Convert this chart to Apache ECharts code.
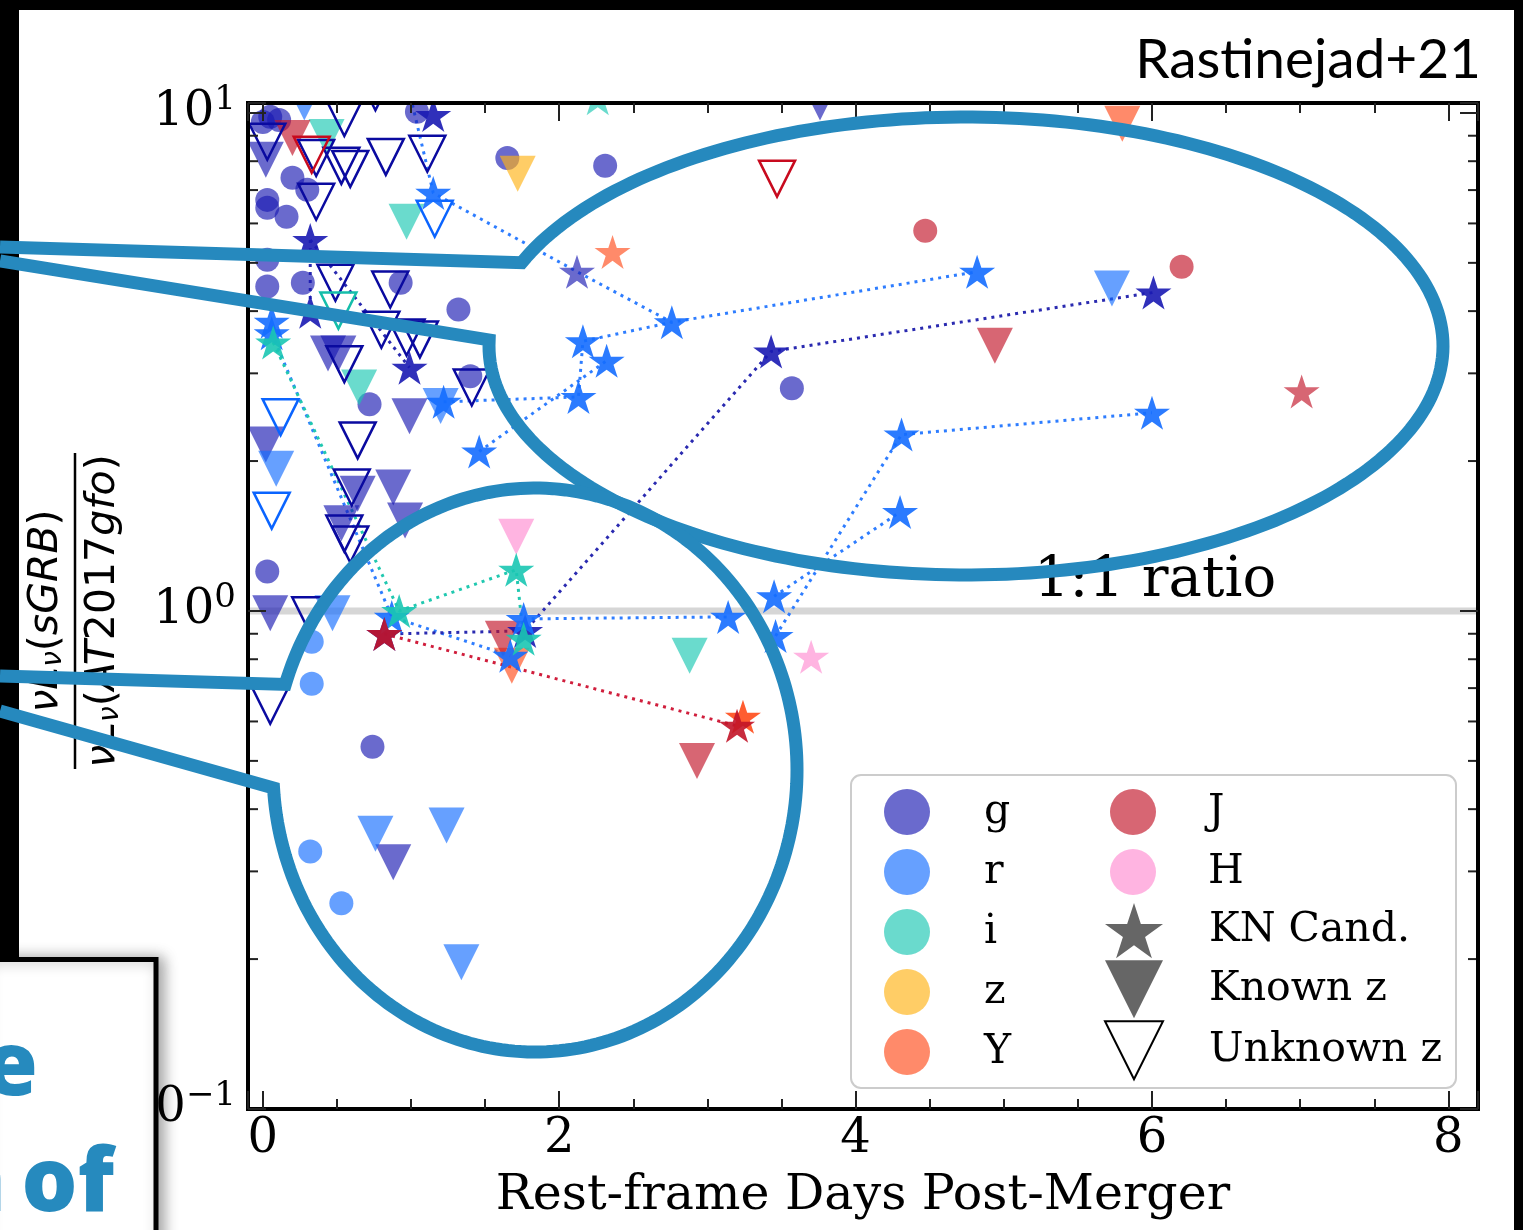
<!DOCTYPE html>
<html>
<head>
<meta charset="utf-8">
<script src="https://cdn.jsdelivr.net/npm/echarts@6/dist/echarts.min.js"></script>
<style>
  html, body { margin: 0; padding: 0; background: #fff; }
  #chart { width: 1523px; height: 1230px; }
</style>
</head>
<body>
<div id="chart"></div>
<script>
// axis ranges
const X_MIN = -0.1, X_MAX = 8.2, Y_MIN = 0.1, Y_MAX = 10.47;
const yMinorTicks = [0.2, 0.3, 0.4, 0.5, 0.6, 0.7, 0.8, 0.9, 2, 3, 4, 5, 6, 7, 8, 9];

// points: [days, ratio]
const gCircle = [[0.05, 9.82], [0.11, 9.68], [0.0, 9.59], [1.04, 10.05], [0.03, 6.69], [0.16, 6.19], [0.20, 7.41],
  [0.30, 7.01], [0.03, 6.45], [0.03, 5.07], [0.03, 4.48], [0.27, 4.56], [0.93, 4.56], [1.32, 4.03], [0.72, 2.60],
  [1.40, 2.96], [1.65, 8.12], [2.31, 7.83], [3.57, 2.80], [0.03, 1.20], [0.74, 0.534]];
const gKnown = [[0.02, 8.05], [0.44, 3.29], [0.51, 3.29], [0.99, 2.46], [0.02, 2.16], [0.64, 1.72], [0.88, 1.77],
  [0.96, 1.52], [0.53, 1.50], [0.05, 0.99], [0.88, 0.313], [3.76, 10.5]];
const gUnknown = [[0.03, 8.75], [0.36, 8.12], [0.53, 7.83], [0.59, 7.72], [0.83, 8.16], [1.11, 8.28], [0.55, 9.77],
  [0.76, 11.0], [0.36, 6.63], [0.49, 4.56], [0.86, 4.42], [0.80, 3.67], [0.97, 3.54], [1.06, 3.51], [0.55, 3.13],
  [1.41, 2.81], [0.64, 2.20], [0.60, 1.77], [0.55, 1.43], [0.59, 1.36], [0.32, 0.98], [0.05, 0.645]];
const gStar = [[1.15, 9.91], [0.32, 5.56], [0.32, 3.99], [0.99, 3.08], [3.43, 3.32], [6.01, 4.36],
  [0.82, 0.899], [1.77, 0.912]];
const gStarFaint = [[2.12, 4.80]];
const rCircle = [[0.33, 0.867], [0.33, 0.714], [0.32, 0.329], [0.53, 0.259]];
const rKnown = [[0.09, 1.93], [0.47, 0.99], [0.76, 0.357], [1.24, 0.371], [1.34, 0.197], [1.20, 2.58], [5.73, 4.44], [0.28, 10.5]];
const rUnknown = [[0.12, 2.45], [0.06, 1.59], [1.16, 6.13]];
const rStar = [[1.15, 6.91], [0.06, 3.81], [0.06, 3.61], [1.22, 2.63], [1.46, 2.09], [2.16, 3.48], [2.32, 3.18],
  [2.13, 2.69], [2.76, 3.80], [4.82, 4.80], [4.31, 2.26], [4.30, 1.58], [6.00, 2.50], [3.45, 1.07], [3.46, 0.891],
  [3.14, 0.973], [1.76, 0.964], [0.87, 0.973], [1.67, 0.813]];
const iKnown = [[0.43, 8.95], [0.97, 6.05], [0.65, 2.81], [2.88, 0.813]];
const iUnknown = [[0.51, 4.01]];
const iStar = [[0.07, 3.46], [0.92, 1.0], [1.71, 1.21], [1.76, 0.879]];
const iStarFaint = [[2.26, 10.7]];
const zKnown = [[1.72, 7.55]];
const yKnown = [[5.80, 9.51], [1.68, 0.776]];
const yStar = [[3.24, 0.613]];
const yStarFaint = [[2.36, 5.26]];
const jCircle = [[4.47, 5.80], [6.20, 4.91]];
const jKnown = [[0.20, 8.91], [4.94, 3.41], [2.93, 0.500], [1.62, 0.879]];
const jUnknown = [[0.33, 8.24], [3.47, 7.38]];
const jStar = [[3.20, 0.588], [0.82, 0.899]];
const jStarFaint = [[7.01, 2.76]];
const hKnown = [[1.71, 1.41]];
const hStarFaint = [[3.70, 0.809]];

// dotted tracks joining epochs of one candidate
const rTracks = [
  [[0.96, 12.0], [1.15, 6.91], [2.12, 4.80], [2.76, 3.80], [4.82, 4.80]],
  [[1.22, 2.63], [2.13, 2.69], [2.16, 3.48], [2.76, 3.80]],
  [[1.46, 2.09], [2.32, 3.18]],
  [[0.06, 3.61], [0.87, 0.973], [1.67, 0.813]],
  [[1.76, 0.964], [3.14, 0.973]],
  [[3.45, 1.07], [4.30, 1.58]],
  [[3.46, 0.891], [4.31, 2.26], [6.00, 2.50]]
];
const iTracks = [[[0.07, 3.46], [0.92, 1.0], [1.71, 1.21], [1.76, 0.879]]];
const gTracks = [
  [[0.82, 0.899], [1.77, 0.912], [3.43, 3.32], [6.01, 4.36]],
  [[0.32, 5.56], [0.32, 3.99]],
  [[0.32, 5.56], [0.99, 3.08]]
];
const jTracks = [[[0.82, 0.899], [3.20, 0.588]]];

const ratioLine = [[X_MIN, 1], [X_MAX, 1]];
const ratioLabelAt = [[5.22, 1]];

const bandFill = { g: '#1A1AB2', r: '#146DFF', i: '#1AC7B2', z: '#FFB214', Y: '#FF4B1A', J: '#C21428', H: '#FF8CD1' };
const bandLegend = { g: '#6A6ACD', r: '#66A0FF', i: '#6ADACD', z: '#FFCD66', Y: '#FF8A6A', J: '#D76673', H: '#FFB4E1' };
const bandEdge = { g: '#0A0AA0', r: '#0A64FF', i: '#14BEAA', J: '#C80A1E' };
const bandTrack = { g: '#2A2AB0', r: '#2E7DFF', i: '#20C8B0', J: '#D01E3C' };

function starPath() {
  const pts = [];
  for (let k = 0; k < 10; k++) {
    const r = k % 2 === 0 ? 10 : 3.82;
    const a = -Math.PI / 2 + k * Math.PI / 5;
    pts.push((r * Math.cos(a)).toFixed(3) + ',' + (r * Math.sin(a)).toFixed(3));
  }
  return 'path://M' + pts.join('L') + 'Z';
}
const STAR = starPath();
const TRI = 'path://M0,0L20,0L10,20Z';

function filled(data, band, symbol, size, opacity) {
  return { type: 'scatter', data: data, symbol: symbol, symbolSize: size, clip: false, silent: true, z: 2,
    itemStyle: { color: bandFill[band], opacity: opacity } };
}
function hollow(data, band) {
  return { type: 'scatter', data: data, symbol: TRI, symbolSize: 36, clip: false, silent: true, z: 2,
    itemStyle: { color: 'rgba(0,0,0,0)', borderColor: bandEdge[band], borderWidth: 2.5, opacity: 1 } };
}
function track(data, band) {
  return { type: 'line', data: data, symbol: 'none', showSymbol: false, clip: true, silent: true, z: 2,
    lineStyle: { color: bandTrack[band], width: 3, type: [3, 5] } };
}

// callout outlines drawn over the figure
function callout(cx, cy, rx, ry, tailA, start, end, tailB) {
  const a1 = Math.atan2((start[1] - cy) / ry, (start[0] - cx) / rx);
  let a2 = Math.atan2((end[1] - cy) / ry, (end[0] - cx) / rx);
  while (a2 < a1) a2 += 2 * Math.PI;
  const pts = [tailA];
  for (let k = 0; k <= 240; k++) {
    const a = a1 + (a2 - a1) * k / 240;
    pts.push([cx + rx * Math.cos(a), cy + ry * Math.sin(a)]);
  }
  pts.push(tailB);
  return pts;
}
const upperCallout = callout(966, 346, 477, 229, [0, 247], [523, 263], [495, 340], [0, 261]);
const lowerCallout = callout(535, 770, 262, 282, [0, 676], [287, 685], [273, 788], [0, 711]);

const serif = 'DejaVu Serif';
const nameRich = {
  i: { fontFamily: 'DejaVu Sans', fontStyle: 'italic', fontSize: 41, color: '#000' },
  n: { fontFamily: 'DejaVu Sans', fontSize: 41, color: '#000' },
  sb: { fontFamily: 'DejaVu Sans', fontStyle: 'italic', fontSize: 28, color: '#000', padding: [15, 0, 0, 0] }
};

function legendText(pad) {
  return {
    formatter: n => '{p|' + n + '}',
    textStyle: { rich: { p: { fontFamily: serif, fontSize: 41, lineHeight: 41, color: '#000', padding: [0, 0, 0, pad] } } }
  };
}

const xLabel = v => (Math.abs(v - Math.round(v)) < 1e-9 ? String(Math.round(v)) : '');
const yLabel = v => {
  const e = Math.log10(v);
  const n = Math.round(e);
  if (Math.abs(e - n) > 1e-6) return '';
  return '{b|10}{s|' + (n < 0 ? '\u2212' + (-n) : n) + '}';
};

function xAxisOf(pos, withLabels) {
  return {
    type: 'value', min: X_MIN, max: X_MAX, position: pos, z: 5,
    axisLine: { show: true, onZero: false, lineStyle: { color: '#000', width: 4, cap: 'square' } },
    axisTick: { show: true, inside: true, length: 18, lineStyle: { color: '#222', width: 2 } },
    minorTick: { show: true, splitNumber: 4, length: 10, lineStyle: { color: '#222', width: 2 } },
    splitLine: { show: false }, minorSplitLine: { show: false },
    axisLabel: { show: withLabels, margin: 7, showMinLabel: true, showMaxLabel: true, formatter: xLabel,
      fontFamily: serif, fontSize: 48, lineHeight: 48, color: '#000' },
    name: withLabels ? 'Rest-frame Days Post-Merger' : '', nameLocation: 'middle', nameGap: 63,
    nameTextStyle: { fontFamily: serif, fontSize: 49, lineHeight: 49, color: '#000' }
  };
}
function yAxisOf(pos, withLabels) {
  return {
    type: 'log', logBase: 10, min: Y_MIN, max: Y_MAX, position: pos, z: 5,
    axisLine: { show: true, onZero: false, lineStyle: { color: '#000', width: 4, cap: 'square' } },
    axisTick: { show: true, inside: true, length: 18, lineStyle: { color: '#222', width: 2 } },
    minorTick: { show: false }, splitLine: { show: false },
    axisLabel: { show: withLabels, margin: 12, showMinLabel: true, showMaxLabel: true, formatter: yLabel,
      rich: {
        b: { fontFamily: serif, fontSize: 48, lineHeight: 48, color: '#000', verticalAlign: 'middle' },
        s: { fontFamily: serif, fontSize: 34, lineHeight: 34, color: '#000', verticalAlign: 'middle', padding: [0, 0, 26, 0] }
      } }
  };
}

const series = [
  { type: 'line', data: ratioLine, symbol: 'none', silent: true, z: 1, lineStyle: { color: '#d6d6d6', width: 7 } },
  { type: 'custom', coordinateSystem: 'cartesian2d', silent: true, z: 5, clip: false,
    data: yMinorTicks.map(v => [X_MIN, v]),
    renderItem: (params, api) => {
      const v = api.value(1);
      const l = api.coord([X_MIN, v]);
      const r = api.coord([X_MAX, v]);
      return { type: 'group', children: [
        { type: 'line', shape: { x1: l[0], y1: l[1], x2: l[0] + 10, y2: l[1] }, style: { stroke: '#222', lineWidth: 2 } },
        { type: 'line', shape: { x1: r[0] - 10, y1: r[1], x2: r[0], y2: r[1] }, style: { stroke: '#222', lineWidth: 2 } }
      ] };
    } },
  filled(gCircle, 'g', 'circle', 24, 0.65),
  filled(rCircle, 'r', 'circle', 24, 0.65),
  filled(jCircle, 'J', 'circle', 24, 0.65),
  filled(gKnown, 'g', TRI, 36, 0.65),
  filled(rKnown, 'r', TRI, 36, 0.65),
  filled(iKnown, 'i', TRI, 36, 0.65),
  filled(zKnown, 'z', TRI, 36, 0.65),
  filled(yKnown, 'Y', TRI, 36, 0.65),
  filled(jKnown, 'J', TRI, 36, 0.65),
  filled(hKnown, 'H', TRI, 36, 0.65),
  hollow(gUnknown, 'g'),
  hollow(rUnknown, 'r'),
  hollow(iUnknown, 'i'),
  hollow(jUnknown, 'J')
];
rTracks.forEach(t => series.push(track(t, 'r')));
iTracks.forEach(t => series.push(track(t, 'i')));
gTracks.forEach(t => series.push(track(t, 'g')));
jTracks.forEach(t => series.push(track(t, 'J')));
series.push(
  filled(gStarFaint, 'g', STAR, [36, 34], 0.65),
  filled(iStarFaint, 'i', STAR, [36, 34], 0.65),
  filled(yStarFaint, 'Y', STAR, [36, 34], 0.65),
  filled(jStarFaint, 'J', STAR, [36, 34], 0.65),
  filled(hStarFaint, 'H', STAR, [36, 34], 0.65),
  filled(gStar, 'g', STAR, [36, 34], 0.9),
  filled(rStar, 'r', STAR, [36, 34], 0.9),
  filled(iStar, 'i', STAR, [36, 34], 0.9),
  filled(yStar, 'Y', STAR, [36, 34], 0.9),
  filled(jStar, 'J', STAR, [36, 34], 0.9),
  { type: 'scatter', data: ratioLabelAt, symbolSize: 1, silent: true, z: 3,
    itemStyle: { color: 'rgba(0,0,0,0)', opacity: 1 },
    label: { show: true, position: 'right', distance: 0, offset: [-3, -30], formatter: '1:1 ratio',
      fontFamily: serif, fontSize: 56, color: '#000', opacity: 1 } }
);
// legend-only series
['g', 'r', 'i', 'z', 'Y', 'J', 'H'].forEach(b => series.push({ type: 'scatter', name: b, data: [], symbol: 'circle',
  itemStyle: { color: bandLegend[b], opacity: 1 } }));
series.push({ type: 'scatter', name: 'KN Cand.', data: [], symbol: STAR, itemStyle: { color: '#666', opacity: 1 } });
series.push({ type: 'scatter', name: 'Known z', data: [], symbol: TRI, itemStyle: { color: '#666', opacity: 1 } });
series.push({ type: 'scatter', name: 'Unknown z', data: [], symbol: TRI,
  itemStyle: { color: '#fff', borderColor: '#000', borderWidth: 2, opacity: 1 } });

const chart = echarts.init(document.getElementById('chart'));
chart.setOption({
  animation: false,
  backgroundColor: '#fff',
  textStyle: { fontFamily: serif },
  grid: { left: 248, right: 45, top: 103, bottom: 121, containLabel: false, outerBoundsMode: 'none' },
  xAxis: [xAxisOf('bottom', true), xAxisOf('top', false)],
  yAxis: [yAxisOf('left', true), yAxisOf('right', false)],
  legend: [
    Object.assign({ orient: 'vertical', left: 884, top: 789, padding: 0, itemWidth: 46, itemHeight: 46, itemGap: 14,
      selectedMode: false, itemStyle: { opacity: 1 },
      data: ['g', 'r', 'i', 'z', 'Y'].map(n => ({ name: n, icon: 'circle' })) }, legendText(49)),
    Object.assign({ orient: 'vertical', left: 1110, top: 789, padding: 0, itemWidth: 46, itemHeight: 46, itemGap: 14,
      selectedMode: false, itemStyle: { opacity: 1 },
      data: ['J', 'H'].map(n => ({ name: n, icon: 'circle' })) }, legendText(47)),
    Object.assign({ orient: 'vertical', left: 1104, top: 903, padding: 0, itemWidth: 58, itemHeight: 58, itemGap: 2,
      selectedMode: false, itemStyle: { opacity: 1 }, data: [
        { name: 'KN Cand.', icon: STAR },
        { name: 'Known z', icon: TRI },
        { name: 'Unknown z', icon: TRI, itemStyle: { color: '#fff', borderColor: '#000', borderWidth: 2, opacity: 1 } }
      ] }, legendText(41))
  ],
  graphic: { elements: [
    { type: 'rect', silent: true, z: 10, shape: { x: 240, y: 10, width: 1250, height: 91 }, style: { fill: '#fff' } },
    { type: 'rect', silent: true, z: 3, shape: { x: 851, y: 775, width: 605, height: 313, r: 10 },
      style: { fill: 'rgba(255,255,255,0.8)', stroke: '#cccccc', lineWidth: 2 } },
    { type: 'text', silent: true, z: 100, x: 1481, y: 60,
      style: { text: 'Rastinejad+21', font: '55px Lato', fill: '#000', align: 'right', verticalAlign: 'middle' } },
    { type: 'group', x: 75, y: 611, rotation: Math.PI / 2, silent: true, children: [
      { type: 'line', z: 20, shape: { x1: -158, y1: 0, x2: 158, y2: 0 }, style: { stroke: '#000', lineWidth: 2.5 } },
      { type: 'text', z: 20, x: 0, y: -7, style: { text: '{i|\u03bdL}{sb|\u03bd}{n|(}{i|sGRB}{n|)}', rich: nameRich,
        align: 'center', verticalAlign: 'bottom' } },
      { type: 'text', z: 20, x: 0, y: 7, style: { text: '{i|\u03bdL}{sb|\u03bd}{n|(}{i|AT}{n|2017}{i|gfo}{n|)}', rich: nameRich,
        align: 'center', verticalAlign: 'top' } }
    ] },
    { type: 'rect', silent: true, z: 80, shape: { x: 0, y: 0, width: 1523, height: 10 }, style: { fill: '#000' } },
    { type: 'rect', silent: true, z: 80, shape: { x: 0, y: 0, width: 19, height: 960 }, style: { fill: '#000' } },
    { type: 'rect', silent: true, z: 80, shape: { x: 1514, y: 0, width: 9, height: 1230 }, style: { fill: '#000' } },
    { type: 'polyline', silent: true, z: 85, shape: { points: upperCallout },
      style: { stroke: '#2689BE', lineWidth: 13, lineJoin: 'miter', fill: null } },
    { type: 'polyline', silent: true, z: 85, shape: { points: lowerCallout },
      style: { stroke: '#2689BE', lineWidth: 13, lineJoin: 'miter', fill: null } },
    { type: 'rect', silent: true, z: 90, shape: { x: -20, y: 959.5, width: 176, height: 300 },
      style: { fill: '#fff', stroke: '#000', lineWidth: 5, shadowBlur: 14, shadowOffsetX: 5, shadowColor: 'rgba(0,0,0,0.35)' } },
    { type: 'text', silent: true, z: 91, x: 38, y: 1070,
      style: { text: 'e', font: '800 88px "Open Sans"', fill: '#268ABE', align: 'right', verticalAlign: 'middle' } },
    { type: 'text', silent: true, z: 91, x: 6, y: 1186,
      style: { text: 'n', font: '800 88px "Open Sans"', fill: '#268ABE', align: 'right', verticalAlign: 'middle' } },
    { type: 'text', silent: true, z: 91, x: 114, y: 1186,
      style: { text: 'of', font: '800 88px "Open Sans"', fill: '#268ABE', align: 'right', verticalAlign: 'middle' } }
  ] },
  series: series
});
</script>
</body>
</html>
